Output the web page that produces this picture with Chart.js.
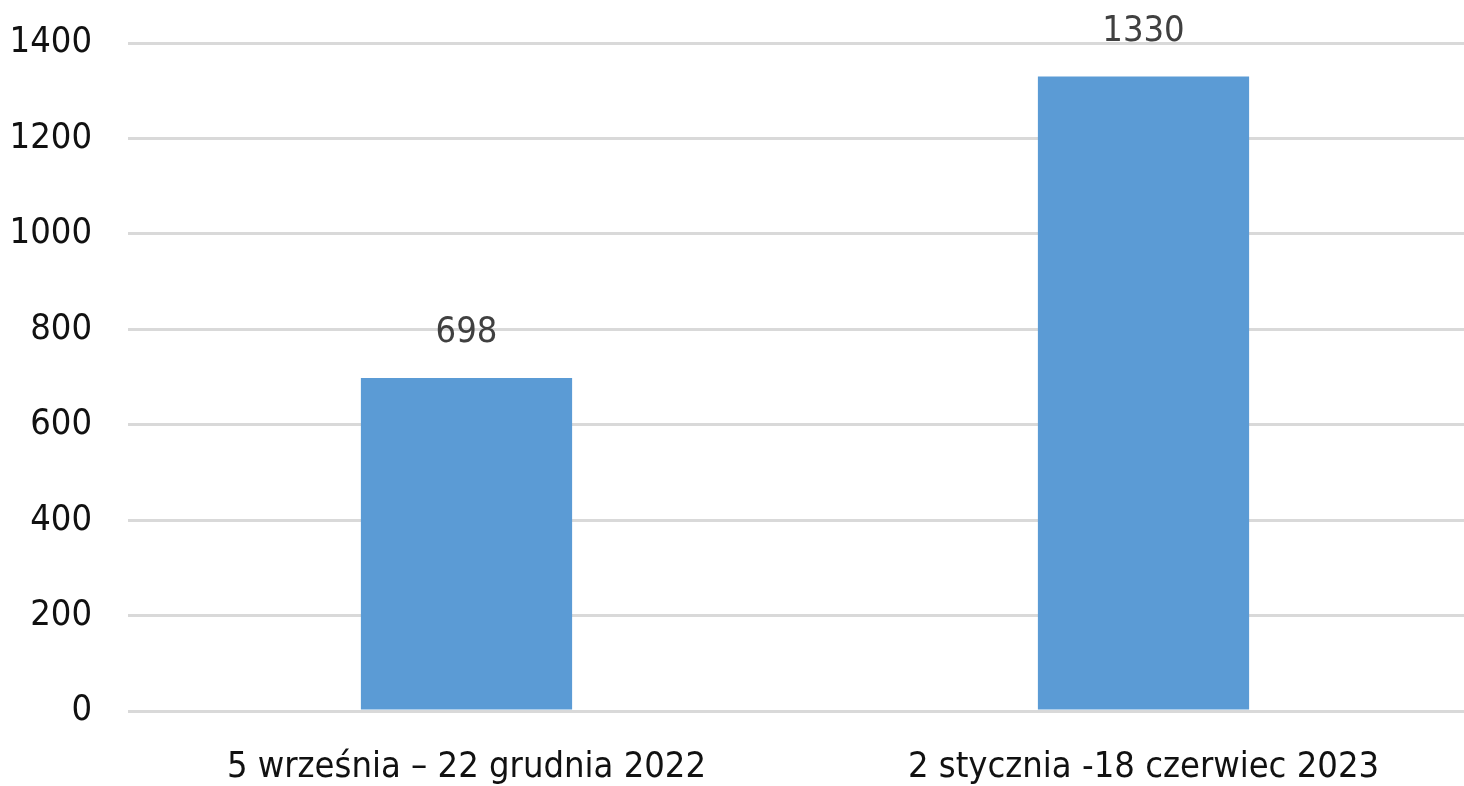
<!DOCTYPE html>
<html>
<head>
<meta charset="utf-8">
<script src="https://cdn.jsdelivr.net/npm/chart.js@4.4.0/dist/chart.umd.min.js"></script>
<style>
  html, body { margin: 0; padding: 0; background: #fff; overflow: hidden; width: 1464px; height: 786px; }
  #wrap { position: absolute; left: 0; top: 0; width: 1500px; height: 786px; }
</style>
</head>
<body>
<div id="wrap"><canvas id="c" width="1500" height="786"></canvas></div>
<script>
const categories = ["5 września – 22 grudnia 2022", "2 stycznia -18 czerwiec 2023"];
const values = [698, 1330];
const yTicks = [0, 200, 400, 600, 800, 1000, 1200, 1400];

const FONT = "'Liberation Sans Narrow', 'DejaVu Sans Condensed', sans-serif";

const labelPlugin = {
  id: 'valueLabels',
  afterDatasetsDraw(chart) {
    const ctx = chart.ctx;
    const meta = chart.getDatasetMeta(0);
    ctx.save();
    ctx.font = "36px " + FONT;
    ctx.fillStyle = "#404040";
    ctx.textAlign = "center";
    ctx.textBaseline = "middle";
    meta.data.forEach((bar, i) => {
      ctx.fillText(String(values[i]), bar.x, bar.y - 45);
    });
    ctx.restore();
  }
};

new Chart(document.getElementById('c'), {
  type: 'bar',
  data: {
    labels: categories,
    datasets: [{
      data: values,
      backgroundColor: '#5B9BD5',
      borderWidth: 0,
      categoryPercentage: 1,
      barPercentage: 0.312
    }]
  },
  options: {
    responsive: false,
    animation: false,
    devicePixelRatio: 1,
    layout: { padding: { top: 43, right: 18, bottom: 0, left: 0 } },
    plugins: { legend: { display: false }, tooltip: { enabled: false } },
    scales: {
      x: {
        grid: { display: false, drawTicks: false },
        border: { display: false },
        ticks: { color: '#111', font: { family: FONT, size: 36 }, padding: 35, maxRotation: 0, autoSkip: false },
        afterFit(axis) { axis.height = 75; }
      },
      y: {
        min: 0, max: 1400,
        afterBuildTicks(axis) { axis.ticks = yTicks.map(v => ({ value: v })); },
        grid: { color: '#d9d9d9', lineWidth: 3, drawTicks: false },
        border: { display: false },
        ticks: { color: '#111', font: { family: FONT, size: 36 }, padding: 36, callback: v => String(v) },
        afterFit(axis) { axis.width = 128; axis.paddingTop = 0; axis.paddingBottom = 0; }
      }
    }
  },
  plugins: [labelPlugin]
});
</script>
</body>
</html>
